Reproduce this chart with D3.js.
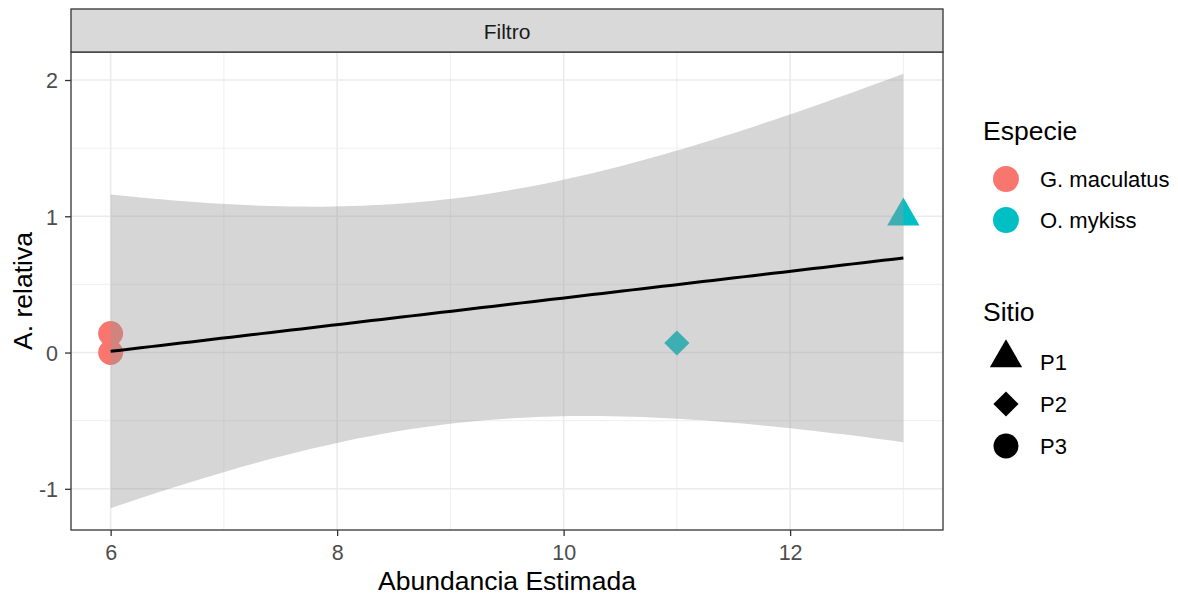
<!DOCTYPE html>
<html>
<head>
<meta charset="utf-8">
<script src="https://cdn.jsdelivr.net/npm/d3@7"></script>
<style>
  body { margin: 0; background: #fff; }
  text { font-family: "Liberation Sans", Arial, sans-serif; }
</style>
</head>
<body>
<svg width="1178" height="595"></svg>
<script>
// data
var especies = ["G. maculatus", "O. mykiss"];
var sitios = ["P1", "P2", "P3"];
var abundancia = [6, 6, 11, 13];
var relativa = [0, 0.14, 0.07, 1.0];
var especieDe = ["G. maculatus", "G. maculatus", "O. mykiss", "O. mykiss"];
var sitioDe = ["P3", "P3", "P2", "P1"];
var xMajor = [6, 8, 10, 12], xMinor = [7, 9, 11, 13];
var yMajor = [-1, 0, 1, 2], yMinor = [-0.5, 0.5, 1.5];
var T975_DF2 = 4.302653; // qt(0.975, df = 2)

var svg = d3.select("svg");
var panel = {left: 71, right: 943, top: 52, bottom: 530};

var points = abundancia.map(function(x, i) {
  return {x: x, y: relativa[i], especie: especieDe[i], sitio: sitioDe[i]};
});

// lm fit + 95% CI, like geom_smooth(method = "lm")
var n = points.length,
  mx = d3.mean(abundancia),
  my = d3.mean(relativa),
  sxx = d3.sum(abundancia, function(x) { return (x - mx) * (x - mx); }),
  sxy = d3.sum(points, function(d) { return (d.x - mx) * (d.y - my); }),
  slope = sxy / sxx,
  icpt = my - slope * mx,
  sse = d3.sum(points, function(d) { var r = d.y - (icpt + slope * d.x); return r * r; }),
  s = Math.sqrt(sse / (n - 2));

var xs = d3.extent(abundancia);
var fit = d3.range(80).map(function(i) {
  var x = xs[0] + (xs[1] - xs[0]) * i / 79,
    yhat = icpt + slope * x,
    hw = T975_DF2 * s * Math.sqrt(1 / n + (x - mx) * (x - mx) / sxx);
  return {x: x, y: yhat, lo: yhat - hw, hi: yhat + hw};
});

var yr = [d3.min(fit, function(d) { return d.lo; }), d3.max(fit, function(d) { return d.hi; })];
var xpad = (xs[1] - xs[0]) * 0.05, ypad = (yr[1] - yr[0]) * 0.05;

var x = d3.scaleLinear().domain([xs[0] - xpad, xs[1] + xpad]).range([panel.left, panel.right]);
var y = d3.scaleLinear().domain([yr[0] - ypad, yr[1] + ypad]).range([panel.bottom, panel.top]);

var color = d3.scaleOrdinal().domain(especies).range(["#F8766D", "#00BFC4"]);

// R pch shapes: 17 triangle, 18 diamond, 19 circle
function shapePath(sitio, size) {
  var sz = size;
  if (sitio == "P1") {
    var r = 1.555 * sz, xc = 1.347 * sz, yc = 0.778 * sz;
    return "M0," + (-r) + "L" + xc + "," + yc + "L" + (-xc) + "," + yc + "Z";
  } else if (sitio == "P2") {
    var d = 1.05 * sz;
    return "M0," + (-d) + "L" + d + ",0L0," + d + "L" + (-d) + ",0Z";
  } else {
    var c = 1.04 * sz;
    return "M" + (-c) + ",0A" + c + "," + c + " 0 1,0 " + c + ",0A" + c + "," + c + " 0 1,0 " + (-c) + ",0Z";
  }
}

// panel background + grid
svg.append("rect")
  .attr("x", panel.left).attr("y", panel.top)
  .attr("width", panel.right - panel.left).attr("height", panel.bottom - panel.top)
  .attr("fill", "#fff");

var grid = svg.append("g");
grid.selectAll(".xminor").data(xMinor).enter().append("line")
  .attr("x1", x).attr("x2", x).attr("y1", panel.top).attr("y2", panel.bottom)
  .attr("stroke", "#ebebeb").attr("stroke-width", 0.8);
grid.selectAll(".yminor").data(yMinor).enter().append("line")
  .attr("y1", y).attr("y2", y).attr("x1", panel.left).attr("x2", panel.right)
  .attr("stroke", "#ebebeb").attr("stroke-width", 0.8);
grid.selectAll(".xmajor").data(xMajor).enter().append("line")
  .attr("x1", x).attr("x2", x).attr("y1", panel.top).attr("y2", panel.bottom)
  .attr("stroke", "#ebebeb").attr("stroke-width", 1.6);
grid.selectAll(".ymajor").data(yMajor).enter().append("line")
  .attr("y1", y).attr("y2", y).attr("x1", panel.left).attr("x2", panel.right)
  .attr("stroke", "#ebebeb").attr("stroke-width", 1.6);

// points first, then the smooth on top
svg.selectAll(".pt").data(points).enter().append("path")
  .attr("class", "pt")
  .attr("transform", function(d) { return "translate(" + x(d.x) + "," + y(d.y) + ")"; })
  .attr("d", function(d) { return shapePath(d.sitio, 12); })
  .attr("fill", function(d) { return color(d.especie); });

svg.append("path")
  .datum(fit)
  .attr("fill", "#999999").attr("fill-opacity", 0.4)
  .attr("d", d3.area().x(function(d) { return x(d.x); })
    .y0(function(d) { return y(d.lo); }).y1(function(d) { return y(d.hi); }));

svg.append("path")
  .datum(fit)
  .attr("fill", "none").attr("stroke", "#000").attr("stroke-width", 3)
  .attr("d", d3.line().x(function(d) { return x(d.x); }).y(function(d) { return y(d.y); }));

// panel border
svg.append("rect")
  .attr("x", panel.left).attr("y", panel.top)
  .attr("width", panel.right - panel.left).attr("height", panel.bottom - panel.top)
  .attr("fill", "none").attr("stroke", "#333").attr("stroke-width", 1.3);

// strip
svg.append("rect")
  .attr("x", panel.left).attr("y", 9)
  .attr("width", panel.right - panel.left).attr("height", panel.top - 9)
  .attr("fill", "#d9d9d9").attr("stroke", "#333").attr("stroke-width", 1.3);
svg.append("text")
  .attr("x", (panel.left + panel.right) / 2).attr("y", 39)
  .attr("text-anchor", "middle").attr("font-size", 21).attr("fill", "#1a1a1a")
  .text("Filtro");

// axes (ggplot uses a plain hyphen for negatives)
var fmt = function(d) { return String(d); };
var xAxis = d3.axisBottom(x).tickValues(xMajor).tickSize(6).tickPadding(9).tickFormat(fmt);
var yAxis = d3.axisLeft(y).tickValues(yMajor).tickSize(6).tickPadding(4).tickFormat(fmt);

var gx = svg.append("g").attr("transform", "translate(0," + panel.bottom + ")").call(xAxis);
var gy = svg.append("g").attr("transform", "translate(" + panel.left + ",0)").call(yAxis);
[gx, gy].forEach(function(g) {
  g.select(".domain").remove();
  g.selectAll(".tick line").attr("stroke", "#333").attr("stroke-width", 1.3);
  g.selectAll(".tick text").attr("font-size", 21.5).attr("fill", "#4d4d4d")
    .style("font-family", "'Liberation Sans', Arial, sans-serif");
});
gy.selectAll(".tick text").attr("x", -13).attr("dy", "0.36em");

svg.append("text")
  .attr("x", (panel.left + panel.right) / 2).attr("y", 590)
  .attr("text-anchor", "middle").attr("font-size", 26.5).attr("fill", "#000")
  .text("Abundancia Estimada");
svg.append("text")
  .attr("transform", "translate(32," + ((panel.top + panel.bottom) / 2) + ") rotate(-90)")
  .attr("text-anchor", "middle").attr("font-size", 26.5).attr("fill", "#000")
  .text("A. relativa");

// legends
var leg = svg.append("g");
leg.append("text").attr("x", 983).attr("y", 140).attr("font-size", 26.5).text("Especie");
var le = leg.selectAll(".le").data(especies).enter().append("g")
  .attr("transform", function(d, i) { return "translate(1006," + (179 + i * 41) + ")"; });
le.append("path").attr("d", shapePath("P3", 12.5)).attr("fill", function(d) { return color(d); });
le.append("text").attr("x", 34).attr("dy", "0.36em").attr("font-size", 22).attr("fill", "#000")
  .text(function(d) { return d; });

leg.append("text").attr("x", 983).attr("y", 321).attr("font-size", 26.5).text("Sitio");
var ls = leg.selectAll(".ls").data(sitios).enter().append("g")
  .attr("transform", function(d, i) { return "translate(1006," + (362 + i * 42) + ")"; });
ls.append("path")
  .attr("transform", function(d) { return d == "P1" ? "translate(0,-4)" : null; })
  .attr("d", function(d) { return shapePath(d, 12); }).attr("fill", "#000");
ls.append("text").attr("x", 34).attr("dy", "0.36em").attr("font-size", 22).attr("fill", "#000")
  .text(function(d) { return d; });
</script>
</body>
</html>
